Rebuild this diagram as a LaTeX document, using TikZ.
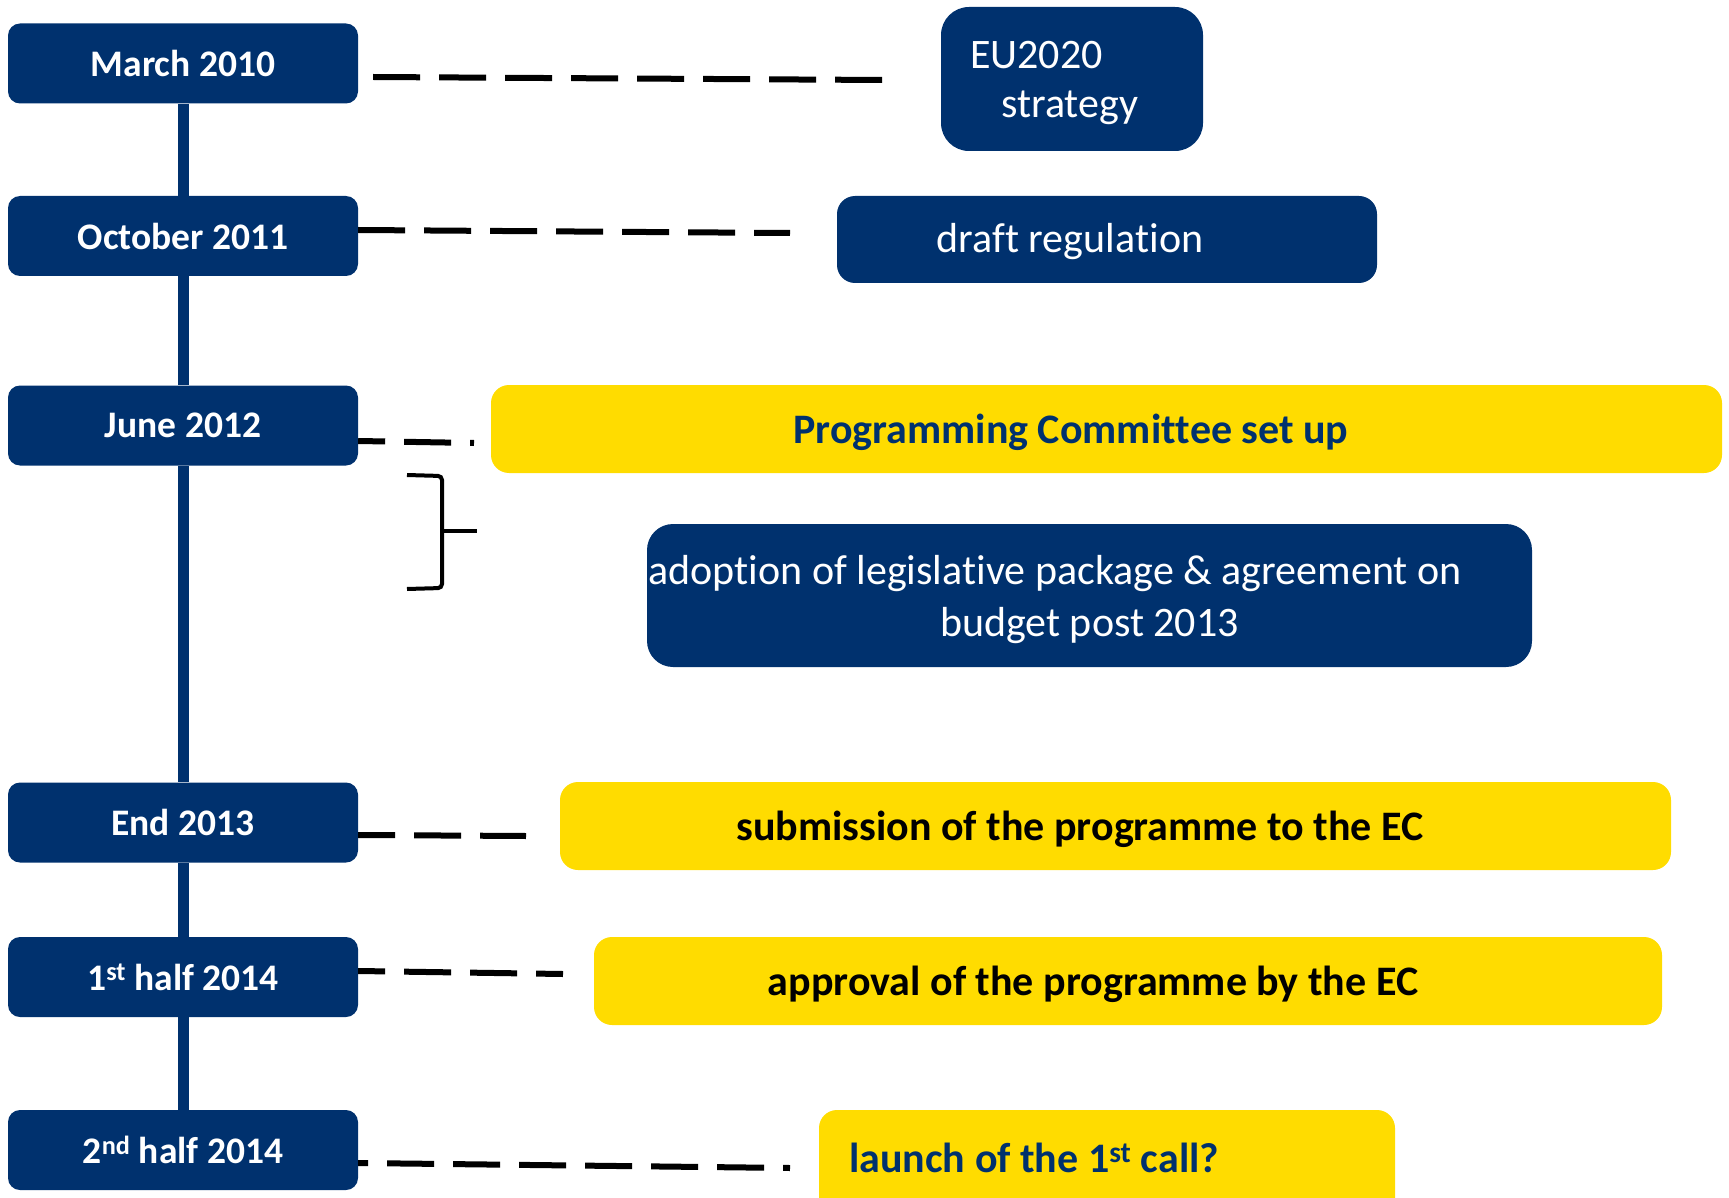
\documentclass[tikz,border=0pt]{standalone}
\usepackage{fontspec}
\setmainfont{Carlito}[Ligatures={NoCommon,NoRare}, RawFeature=-calt, RawFeature=-clig, RawFeature=-liga]
\definecolor{navy}{RGB}{0,49,110}
\definecolor{ecyellow}{RGB}{255,220,0}
\newcommand{\nolig}{\kern0pt{}}
\begin{document}
\begin{tikzpicture}[x=1pt,y=-1pt,
  datebox/.style={fill=navy, rounded corners=12pt, minimum width=350pt, minimum height=80pt, inner sep=0pt, text=white, font=\fontsize{37.5}{42}\selectfont\bfseries},
  bluebox/.style={fill=navy, rounded corners=18pt, inner sep=0pt},
  yellowbox/.style={fill=ecyellow, rounded corners=18pt, inner sep=0pt},
  dashline/.style={line width=6pt, dash pattern=on 47pt off 19pt},
  spine/.style={navy, line width=11pt},
  wtext/.style={text=white, font=\fontsize{42}{50}\selectfont, inner sep=0pt, anchor=base},
  btext/.style={font=\fontsize{42}{50}\selectfont\bfseries, inner sep=0pt, anchor=base},
  bracket/.style={line width=4pt, rounded corners=4pt}
]
\useasboundingbox (0,0) rectangle (1729,1198);

% date boxes
\node[datebox] (m1) at (183,63.5) {March 2010};
\node[datebox] (m2) at (183,236) {October 2011};
\node[datebox] (m3) at (183,425.5) {June 2012};
\node[datebox] (m4) at (183,822.5) {End 2013};
\node[datebox] (m5) at (183,977) {1\textsuperscript{st} half 2014};
\node[datebox] (m6) at (183,1150) {2\textsuperscript{nd} half 2014};

% spine
\draw[spine] (m1.south) -- (m2.north);
\draw[spine] (m2.south) -- (m3.north);
\draw[spine] (m3.south) -- (m4.north);
\draw[spine] (m4.south) -- (m5.north);
\draw[spine] (m5.south) -- (m6.north);

% event boxes
\node[bluebox, rounded corners=28pt, minimum width=262pt, minimum height=144pt] (eu) at (1072,79) {};
\node[bluebox, minimum width=540pt, minimum height=87pt] (draft) at (1107,239.5) {};
\node[yellowbox, minimum width=1231pt, minimum height=88pt] (prog) at (1106.5,429) {};
\node[bluebox, rounded corners=26pt, minimum width=885pt, minimum height=143pt] (adopt) at (1089.5,595.5) {};
\node[yellowbox, minimum width=1111pt, minimum height=88pt] (subm) at (1115.5,826) {};
\node[yellowbox, minimum width=1068pt, minimum height=88pt] (appr) at (1128,981) {};
\node[yellowbox, minimum width=576pt, minimum height=110pt] (launch) at (1107,1165) {};

% texts
\node[wtext, anchor=base west] (eut1) at (970,69) {EU2020};
\node[wtext, anchor=base west] (eut2) at (1001,118) {strategy};
\node[wtext] (draftt) at (1070,253) {draf\nolig t regula\nolig tion};
\node[btext, text=navy] (progt) at (1071,443) {Programming Commit\nolig tee set up};
\node[wtext] (adoptt1) at (1055,584) {adop\nolig tion of legisla\nolig tive package \& agreement on};
\node[wtext] (adoptt2) at (1089.5,636) {budget post 2013};
\node[btext, text=black] (submt) at (1080,840) {submission of the programme to the EC};
\node[btext, text=black] (apprt) at (1093,995) {approval of the programme by the EC};
\node[btext, text=navy, anchor=base west] (launcht) at (849,1172) {launch of the 1\textsuperscript{st} call?};

% dashed connectors
\coordinate (d1) at (883,80);
\coordinate (d2) at (790,233);
\coordinate (d3) at (474,443);
\coordinate (d4) at (526,836);
\coordinate (d5) at (563,974);
\coordinate (d6) at (790,1168);
\draw[dashline] ([xshift=15pt,yshift=-13.5pt]m1.east) -- (d1);
\draw[dashline] ([yshift=6pt]m2.east) -- (d2);
\draw[dashline, dash phase=20pt] ([yshift=-15.5pt]m3.east) -- (d3);
\draw[dashline, dash phase=10pt] ([yshift=-12.5pt]m4.east) -- (d4);
\draw[dashline, dash phase=20pt] ([yshift=6pt]m5.east) -- (d5);
\draw[dashline, dash phase=37pt] ([yshift=-13pt]m6.east) -- (d6);

% bracket
\coordinate (b1) at (407,475);
\coordinate (b2) at (442,476);
\coordinate (b3) at (442,588);
\coordinate (b4) at (407,589);
\coordinate (bm) at (442,531);
\coordinate (bt) at (477,531);
\draw[bracket] (b1) -- (b2) -- (b3) -- (b4);
\draw[line width=4pt] (bm) -- (bt);
\end{tikzpicture}
\end{document}
